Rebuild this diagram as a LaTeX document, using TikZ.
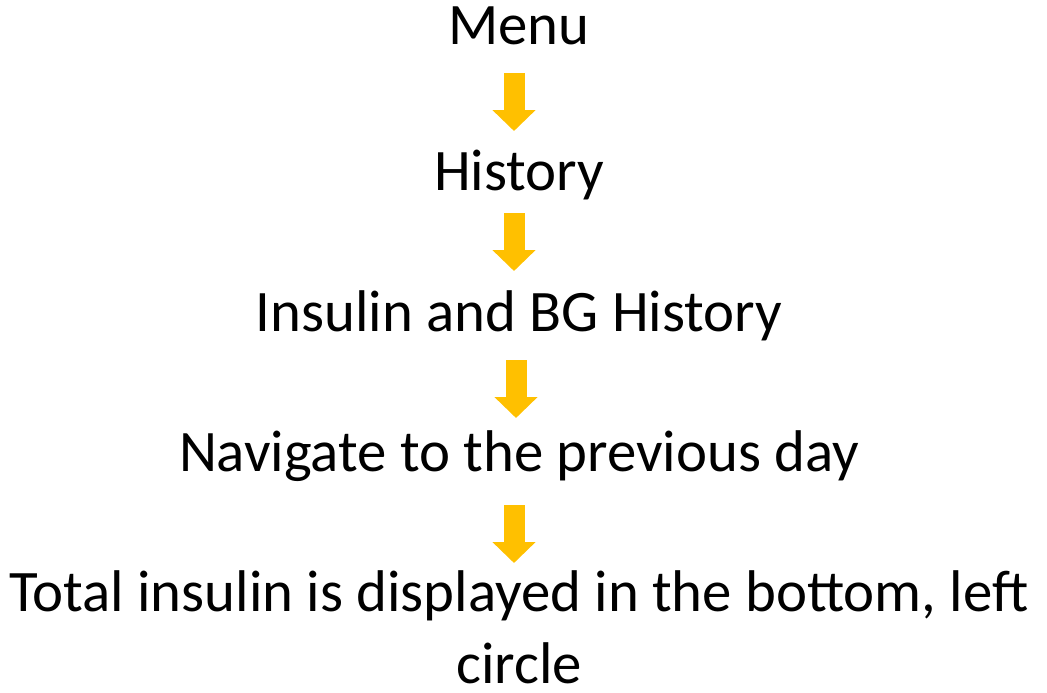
\documentclass[tikz,border=0pt]{standalone}
\usepackage{fontspec}
\setmainfont{Carlito}
\usetikzlibrary{arrows.meta}
\definecolor{arrowgold}{HTML}{FFC000}

\begin{document}
\begin{tikzpicture}[x=1pt,y=-1pt,
        step text/.style={anchor=base,inner sep=0pt,align=center,
            font=\fontsize{58.8}{72}\selectfont},
        flowarrow/.style={draw=arrowgold,line width=21pt,
            -{Triangle[width=42pt,length=21pt,fill=arrowgold]}}]
    \useasboundingbox (0,0) rectangle (1047,693);

    \node[step text] (menu) at (519,45) {Menu};
    \node[step text] (history) at (519,190) {History};
    \node[step text] (bghist) at (519,331) {Insulin and BG History};
    \node[step text] (prevday) at (519,471) {Navigate to the previous day};
    % base of a two-line node is its last line
    \node[step text] (total) at (519,683) {Total insulin is displayed in the bottom, left\\circle};

    % arrows between the steps
    \foreach \a/\b/\dx/\s/\e in {menu/history/-5/28/59, history/bghist/-5/23/60,
        bghist/prevday/-3/29/53, prevday/total/-5/34/120} {
        \draw[flowarrow, shorten <=\s pt, shorten >=\e pt]
            ([xshift=\dx pt]\a.base) -- ([xshift=\dx pt]\b.base);
    }
\end{tikzpicture}
\end{document}
